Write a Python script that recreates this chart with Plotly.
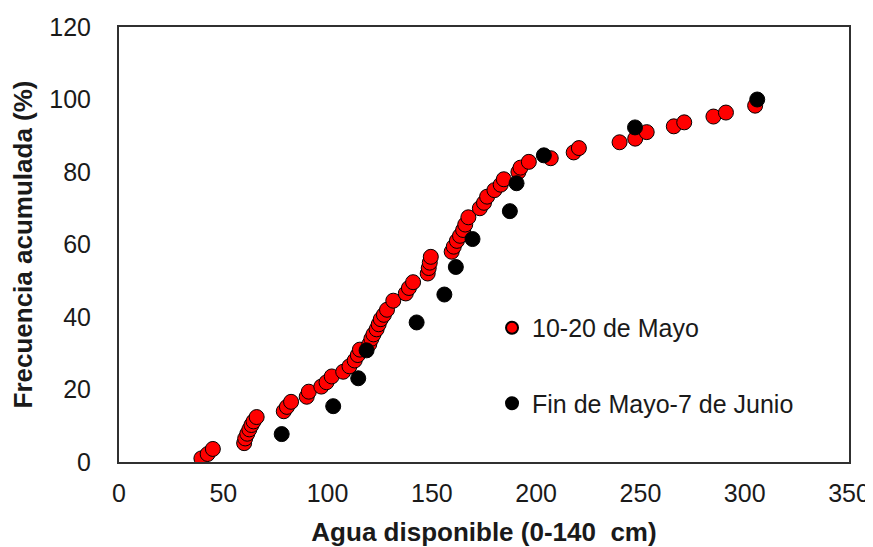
import plotly.graph_objects as go

# Serie 1: 10-20 de Mayo
mayo_x = [39.5, 42.5, 45, 60, 60.5, 61.5, 62.5, 63.5, 64.5, 66,
          79, 80.5, 82.5, 90, 91, 97, 99.5, 102,
          107.5, 110.5, 113, 114.5, 115.5,
          120, 121, 122, 123.5, 124.5, 125.5, 127, 128.5, 131.5,
          137.5, 139, 141, 148, 148.5, 149, 149.5,
          159.5, 160.5, 162, 163.5, 165, 166, 167.5,
          173, 175, 176.5, 180, 183, 184.5,
          191.5, 192.5, 196.5, 207, 218, 220.5,
          240, 247.5, 253, 266, 271, 285, 291, 305]
mayo_y = [1.0, 2.2, 3.6, 5.2, 6.5, 7.8, 9.0, 10.2, 11.2, 12.4,
          14.0, 15.2, 16.6, 18.0, 19.4, 20.8, 22.0, 23.6,
          24.9, 26.4, 28.0, 29.5, 31.0,
          32.5, 34.0, 35.2, 36.6, 38.0, 39.4, 40.6, 42.0, 44.5,
          46.5, 48.0, 49.6, 52.0, 53.5, 55.0, 56.6,
          58.0, 59.4, 61.0, 62.4, 64.0, 65.5, 67.5,
          70.0, 71.5, 73.2, 75.0, 76.5, 78.0,
          80.0, 81.2, 82.8, 83.8, 85.4, 86.6,
          88.2, 89.2, 91.0, 92.6, 93.7, 95.3, 96.4, 98.3]

# Serie 2: Fin de Mayo-7 de Junio
junio_x = [78, 102.7, 114.7, 118.7, 142.7, 156, 161.5, 169.5, 187.4, 190.6, 203.7, 247.4, 306]
junio_y = [7.7, 15.4, 23.1, 30.8, 38.5, 46.2, 53.8, 61.5, 69.2, 76.9, 84.6, 92.3, 100]

x_ticks = [0, 50, 100, 150, 200, 250, 300, 350]
y_ticks = [0, 20, 40, 60, 80, 100, 120]

FONT = "Liberation Sans, Arial, sans-serif"
TXT = "#1a1a1a"

fig = go.Figure()
fig.add_trace(go.Scatter(
    x=mayo_x, y=mayo_y, mode="markers", name="10-20 de Mayo",
    legendgroup="a",
    marker=dict(size=15, color="#FF0000", line=dict(color="#000000", width=1)),
))
fig.add_trace(go.Scatter(
    x=junio_x, y=junio_y, mode="markers", name="Fin de Mayo-7 de Junio",
    legendgroup="b",
    marker=dict(size=15, color="#000000", line=dict(color="#000000", width=1)),
))

fig.update_layout(
    width=865, height=539,
    margin=dict(l=111, r=24, t=19, b=85),
    paper_bgcolor="white", plot_bgcolor="white",
    font=dict(family=FONT, size=25, color=TXT),
    showlegend=True,
    legend=dict(
        x=0.511, y=0.361, xanchor="left", yanchor="top",
        bgcolor="rgba(0,0,0,0)", borderwidth=0,
        font=dict(size=25, color=TXT),
        itemsizing="constant", tracegroupgap=40,
    ),
    xaxis=dict(
        range=[0, 350], tickvals=x_ticks, ticktext=[str(v) for v in x_ticks],
        showgrid=False, zeroline=False,
        ticks="outside", ticklen=8, tickcolor="rgba(0,0,0,0)",
        showline=True, linecolor="#303030", linewidth=2, mirror=True,
        automargin=False,
        title=dict(text="<b>Agua disponible (0-140\u00a0 cm)</b>",
                   font=dict(size=26, color=TXT), standoff=29),
        tickfont=dict(size=25, color=TXT),
    ),
    yaxis=dict(
        range=[0, 120], tickvals=y_ticks, ticktext=[str(v) for v in y_ticks],
        showgrid=False, zeroline=False,
        ticks="outside", ticklen=21, tickcolor="rgba(0,0,0,0)",
        showline=True, linecolor="#303030", linewidth=2, mirror=True,
        automargin=False,
        title=dict(text="<b>Frecuencia acumulada (%)</b>",
                   font=dict(size=26, color=TXT), standoff=16),
        tickfont=dict(size=25, color=TXT),
    ),
)

fig.write_html("out.html")
